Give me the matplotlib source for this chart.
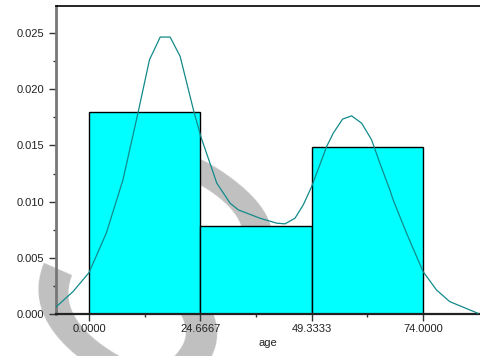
import matplotlib
matplotlib.use("Agg")
from matplotlib import pyplot as plt
from matplotlib.ticker import FixedLocator

plt.rcParams['font.family'] = ['Liberation Sans', 'DejaVu Sans']

# histogram of age (density scale)
bin_edges = [0.0, 24.6667, 49.3333, 74.0]
density = [0.0180, 0.0078, 0.0149]
tick_labels = ['0.0000', '24.6667', '49.3333', '74.0000']

# kernel density curve
kde_x = [-7.23, -3.54, 0.0, 3.83, 7.52, 10.84, 13.40, 15.77, 17.98, 20.19,
         23.13, 24.77, 28.31, 31.25, 33.09, 37.88, 41.58, 43.41, 45.62,
         47.46, 49.32, 52.64, 54.10, 56.17, 58.16, 60.38, 62.59, 64.42,
         66.64, 67.37, 70.33, 74.0, 76.96, 79.90, 86.16]
kde_y = [0.00065, 0.00199, 0.00368, 0.00719, 0.01193, 0.01787, 0.02262,
         0.02464, 0.02464, 0.02292, 0.01817, 0.01579, 0.01164, 0.00986,
         0.00926, 0.00852, 0.00808, 0.00802, 0.00852, 0.00971, 0.01134,
         0.0149, 0.01609, 0.01734, 0.01763, 0.01698, 0.0155, 0.01342,
         0.01104, 0.01015, 0.00719, 0.00377, 0.00214, 0.0011, 0.00006]

fig = plt.figure(figsize=(4.8, 3.56), dpi=100)

# gray watermark behind the plot
fig.text(0.285, 0.155, 'S', fontsize=240, color='#c0c0c0', rotation=-35,
         ha='center', va='center', zorder=-5)

ax = fig.add_axes([0.1167, 0.118, 0.8833, 0.865])
ax.patch.set_alpha(0)

widths = [bin_edges[i + 1] - bin_edges[i] for i in range(len(density))]
ax.bar(bin_edges[:-1], density, width=widths, align='edge',
       color='#00ffff', edgecolor='black', linewidth=1.0, zorder=2)
ax.plot(kde_x, kde_y, color='#138a8a', linewidth=0.9, zorder=3)

ax.set_xlim(-7.3, 86.6)
ax.set_ylim(0, 0.0274)

ax.set_xticks(bin_edges)
ax.set_xticklabels(tick_labels)
ax.xaxis.set_minor_locator(FixedLocator([12.333, 37.0, 61.667]))
ax.set_yticks([0, 0.005, 0.010, 0.015, 0.020, 0.025])
ax.set_yticklabels(['0.000', '0.005', '0.010', '0.015', '0.020', '0.025'])
ax.yaxis.set_minor_locator(FixedLocator([0.0025, 0.0075, 0.0125, 0.0175, 0.0225]))

ax.tick_params(axis='both', which='major', labelsize=8, length=5,
               width=1, color='#333333', labelcolor='#222222')
ax.tick_params(axis='x', which='major', pad=2)
ax.tick_params(axis='both', which='minor', length=2.5, width=1, color='#333333')
ax.set_xlabel('age', fontsize=8, color='#222222', labelpad=3)

ax.spines['right'].set_visible(False)
ax.spines['top'].set_linewidth(1.2)
ax.spines['left'].set_color('#777777')
ax.spines['left'].set_linewidth(2)
ax.spines['bottom'].set_color('#222222')
ax.spines['bottom'].set_linewidth(1.6)

fig.savefig('out.png', dpi=100)
